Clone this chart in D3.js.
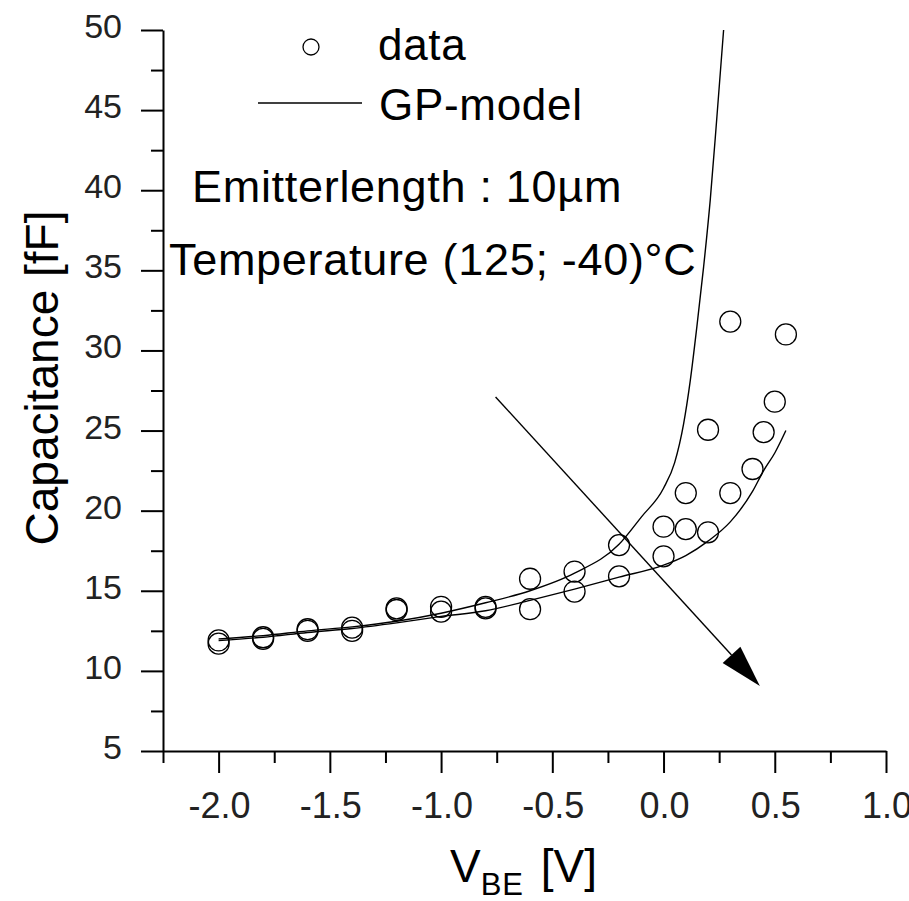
<!DOCTYPE html>
<html>
<head>
<meta charset="utf-8">
<script src="https://cdn.jsdelivr.net/npm/d3@7"></script>
<style>
  body { margin: 0; background: #fff; }
  text { font-family: "Liberation Sans", Arial, sans-serif; fill: #000; }
  .tick-label { fill: #222; }
  .big { letter-spacing: 0.7px; }
</style>
</head>
<body>
<div id="chart-div"></div>
<script>
// measured points, two temperatures
const vbeHigh = [-2.0, -1.8, -1.6, -1.4, -1.2, -1.0, -0.8, -0.6, -0.4, -0.2, 0.0, 0.1, 0.2, 0.3];
const capHigh = [11.9, 12.1, 12.6, 12.7, 13.9, 14.0, 14.0, 15.75, 16.2, 17.85, 19.0, 21.1, 25.05, 31.8];
const vbeLow = [-2.0, -1.8, -1.6, -1.4, -1.2, -1.0, -0.8, -0.6, -0.4, -0.2, 0.0, 0.1, 0.2, 0.3, 0.4, 0.45, 0.5, 0.55];
const capLow = [11.7, 12.0, 12.5, 12.5, 13.8, 13.7, 13.9, 13.85, 14.95, 15.9, 17.15, 18.85, 18.65, 21.1, 22.6, 24.9, 26.8, 31.0];

// GP-model curves
const modelHighX = [-2.0, -1.8, -1.6, -1.4, -1.2, -1.0, -0.8, -0.6, -0.4, -0.2, -0.1, 0.0, 0.05, 0.09, 0.12, 0.15, 0.18, 0.21, 0.24, 0.27];
const modelHighY = [12.0, 12.2, 12.5, 12.75, 13.1, 13.6, 14.25, 15.0, 16.1, 17.9, 19.6, 21.4, 23.0, 25.4, 28.1, 31.5, 35.2, 39.4, 44.6, 50.0];
const modelLowX = [-2.0, -1.8, -1.6, -1.4, -1.2, -1.0, -0.8, -0.6, -0.4, -0.2, 0.0, 0.1, 0.2, 0.3, 0.4, 0.45, 0.5, 0.55];
const modelLowY = [11.9, 12.1, 12.4, 12.65, 13.0, 13.4, 13.75, 14.4, 15.1, 15.85, 16.6, 17.2, 18.1, 19.3, 21.2, 22.5, 23.6, 25.0];

const xTicks = [-2.0, -1.5, -1.0, -0.5, 0.0, 0.5, 1.0];
const yTicks = [5, 10, 15, 20, 25, 30, 35, 40, 45, 50];

// temperature arrow (data coords)
const arrowFrom = [-0.755, 27.1];
const arrowTo = [0.433, 9.06];

const WIDTH = 909;
const HEIGHT = 901;
const X0 = 163, X1 = 886, Y0 = 751, Y1 = 30;

let svg = d3.select("#chart-div")
    .append("svg")
    .attr("width", WIDTH)
    .attr("height", HEIGHT);

let xScale = d3.scaleLinear().domain([-2.25, 1.0]).range([X0, X1]);
let yScale = d3.scaleLinear().domain([5, 50]).range([Y0, Y1]);

// y axis, major + minor ticks pointing left
let yMinor = d3.range(7.5, 50, 5);
svg.append("g")
    .attr("transform", "translate(" + X0 + ",0)")
    .call(d3.axisLeft(yScale).tickValues(yMinor).tickSize(12).tickFormat(""))
    .call(g => g.select(".domain").remove())
    .selectAll("line").attr("stroke-width", 2);
svg.append("g")
    .attr("transform", "translate(" + X0 + ",0)")
    .call(d3.axisLeft(yScale).tickValues(yTicks).tickSize(22).tickSizeOuter(0).tickFormat(""))
    .call(g => g.select(".domain").attr("stroke-width", 2))
    .selectAll("line").attr("stroke-width", 2);

// x axis
let xMinor = d3.range(-2.25, 1.0, 0.5);
svg.append("g")
    .attr("transform", "translate(0," + Y0 + ")")
    .call(d3.axisBottom(xScale).tickValues(xMinor).tickSize(12).tickFormat(""))
    .call(g => g.select(".domain").remove())
    .selectAll("line").attr("stroke-width", 2);
svg.append("g")
    .attr("transform", "translate(0," + Y0 + ")")
    .call(d3.axisBottom(xScale).tickValues(xTicks).tickSize(22).tickSizeOuter(0).tickFormat(""))
    .call(g => g.select(".domain").attr("stroke-width", 2))
    .selectAll("line").attr("stroke-width", 2);

// tick labels
svg.append("g").selectAll("text")
    .data(yTicks)
    .enter().append("text")
    .classed("tick-label", true)
    .attr("x", 122)
    .attr("y", d => yScale(d) + 8)
    .attr("text-anchor", "end")
    .style("font-size", "34px")
    .text(d => d);

svg.append("g").selectAll("text")
    .data(xTicks)
    .enter().append("text")
    .classed("tick-label", true)
    .attr("x", d => xScale(d) + 1)
    .attr("y", 818)
    .attr("text-anchor", "middle")
    .style("font-size", "36px")
    .text(d => d.toFixed(1));

// axis titles
svg.append("text")
    .attr("transform", "translate(58,378)rotate(-90)")
    .attr("text-anchor", "middle")
    .style("font-size", "46px")
    .text("Capacitance [fF]");

let xt = svg.append("text")
    .attr("x", 450)
    .attr("y", 882)
    .style("font-size", "46px");
xt.append("tspan").text("V");
xt.append("tspan").attr("dy", 13).style("font-size", "31px").style("letter-spacing", "1px").text("BE");
xt.append("tspan").attr("dy", -13).attr("dx", 4).text(" [V]");

// model lines
let line = d3.line()
    .x(d => xScale(d[0]))
    .y(d => yScale(d[1]))
    .curve(d3.curveMonotoneX);

[[modelHighX, modelHighY], [modelLowX, modelLowY]].forEach(([xs, ys]) => {
    svg.append("path")
        .datum(xs.map((x, i) => [x, ys[i]]))
        .attr("d", line)
        .attr("fill", "none")
        .attr("stroke", "#000")
        .attr("stroke-width", 1.4);
});

// data circles
let points = vbeHigh.map((x, i) => [x, capHigh[i]])
    .concat(vbeLow.map((x, i) => [x, capLow[i]]));
svg.append("g").selectAll("circle")
    .data(points)
    .enter().append("circle")
    .attr("cx", d => xScale(d[0]))
    .attr("cy", d => yScale(d[1]))
    .attr("r", 10.5)
    .attr("fill", "none")
    .attr("stroke", "#000")
    .attr("stroke-width", 1.3);

// arrow
let ax0 = xScale(arrowFrom[0]), ay0 = yScale(arrowFrom[1]);
let ax1 = xScale(arrowTo[0]), ay1 = yScale(arrowTo[1]);
let len = Math.hypot(ax1 - ax0, ay1 - ay0);
let ux = (ax1 - ax0) / len, uy = (ay1 - ay0) / len;
let headLen = 42, headHalf = 12;
let bx = ax1 - ux * headLen, by = ay1 - uy * headLen;
svg.append("line")
    .attr("x1", ax0).attr("y1", ay0)
    .attr("x2", bx).attr("y2", by)
    .attr("stroke", "#000")
    .attr("stroke-width", 1.4);
svg.append("path")
    .attr("d", "M" + ax1 + "," + ay1 +
        "L" + (bx - uy * headHalf) + "," + (by + ux * headHalf) +
        "L" + (bx + uy * headHalf) + "," + (by - ux * headHalf) + "Z")
    .attr("fill", "#000");

// legend
svg.append("circle")
    .attr("cx", 311).attr("cy", 47).attr("r", 8)
    .attr("fill", "none").attr("stroke", "#000").attr("stroke-width", 1.3);
svg.append("text").classed("big", true).attr("x", 378).attr("y", 60).style("font-size", "44px").text("data");
svg.append("line")
    .attr("x1", 258).attr("x2", 362).attr("y1", 103).attr("y2", 103)
    .attr("stroke", "#000").attr("stroke-width", 1.4);
svg.append("text").classed("big", true).attr("x", 379).attr("y", 120).style("font-size", "44px").text("GP-model");

// annotations
svg.append("text").classed("big", true).attr("x", 192).attr("y", 202).style("font-size", "45px").text("Emitterlength : 10µm");
svg.append("text").classed("big", true).attr("x", 169).attr("y", 275).style("font-size", "45px").text("Temperature (125; -40)°C");
</script>
</body>
</html>
